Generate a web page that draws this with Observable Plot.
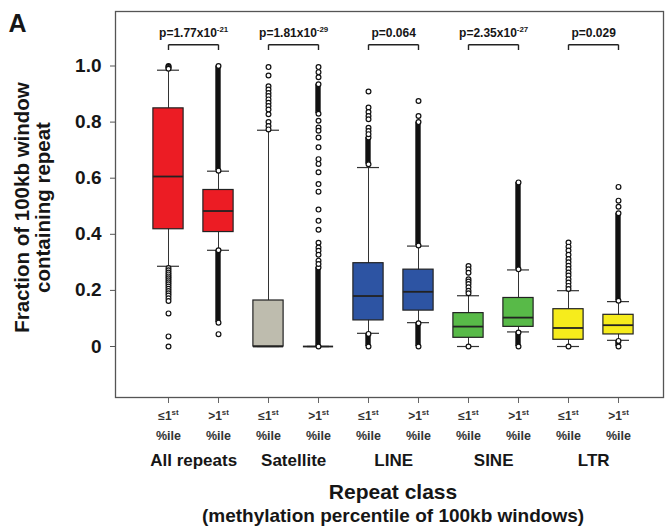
<!DOCTYPE html>
<html>
<head>
<meta charset="utf-8">
<script src="https://cdn.jsdelivr.net/npm/d3@7"></script>
<script src="https://cdn.jsdelivr.net/npm/@observablehq/plot@0.6"></script>
<style>
  html, body { margin: 0; padding: 0; background: #fff; }
  #chart { width: 666px; height: 530px; }
</style>
</head>
<body>
<div id="chart"></div>
<script>
// ---- data ----
const categories = ["All repeats", "Satellite", "LINE", "SINE", "LTR"];
const bins = ["≤1^st", ">1^st"];
const binSub = "%ile";
const pValues = ["p=1.77x10^-21", "p=1.81x10^-29", "p=0.064", "p=2.35x10^-27", "p=0.029"];
const groupFills = ["#EC1C24", "#BEBCAE", "#2D54A3", "#58BA48", "#F6EC1C"];
const yTicks = [0, 0.2, 0.4, 0.6, 0.8, 1.0];

// box statistics, 10 boxes (category x bin)
const q1        = [0.418, 0.408, 0.000, 0.000, 0.093, 0.128, 0.031, 0.070, 0.024, 0.043];
const medians   = [0.606, 0.483, 0.000, 0.000, 0.180, 0.195, 0.071, 0.103, 0.066, 0.076];
const q3        = [0.849, 0.558, 0.164, 0.000, 0.297, 0.274, 0.119, 0.173, 0.133, 0.113];
const whiskerLo = [0.286, 0.343, 0.000, 0.000, 0.047, 0.085, 0.000, 0.052, 0.000, 0.022];
const whiskerHi = [0.985, 0.625, 0.771, 0.000, 0.638, 0.358, 0.181, 0.273, 0.199, 0.160];

// individually visible outliers per box
const outlierValues = [
  [1.0, 0.997, 0.993, 0.99, 0.28, 0.272, 0.264, 0.257, 0.25, 0.243, 0.236, 0.229, 0.222, 0.214, 0.206, 0.198, 0.19, 0.182, 0.172, 0.162, 0.118, 0.036, 0.0],
  [0.044],
  [0.996, 0.966, 0.928, 0.916, 0.904, 0.893, 0.881, 0.869, 0.857, 0.845, 0.828, 0.80, 0.786, 0.774],
  [0.996, 0.978, 0.96, 0.805, 0.781, 0.769, 0.745, 0.71, 0.668, 0.651, 0.621, 0.579, 0.552, 0.488, 0.448, 0.416, 0.37, 0.353, 0.341, 0.327, 0.306, 0.294],
  [0.909, 0.852, 0.836, 0.822, 0.81, 0.78, 0.768, 0.757],
  [0.875, 0.822],
  [0.287, 0.275, 0.263, 0.24, 0.232, 0.223, 0.211, 0.199, 0.19, 0.0],
  [],
  [0.371, 0.356, 0.342, 0.327, 0.312, 0.30, 0.288, 0.276, 0.264, 0.253, 0.24, 0.228, 0.216, 0.205, 0.0],
  [0.569, 0.52, 0.498]
];
// runs of outliers so dense they merge into a solid column: [box index, low, high]
const denseRuns = [
  [1, 0.627, 1.0], [1, 0.085, 0.343],
  [3, 0.0, 0.282], [3, 0.83, 0.935],
  [4, 0.65, 0.745], [4, 0.0, 0.045],
  [5, 0.36, 0.80], [5, 0.0, 0.083],
  [7, 0.275, 0.585], [7, 0.0, 0.05],
  [9, 0.163, 0.475], [9, 0.0, 0.02]
];

// ---- tables built from the arrays ----
const keys = categories.flatMap(c => bins.map(b => c + " " + b));
const rows = keys.map((k, i) => ({
  key: k, bin: bins[i % 2], fill: groupFills[Math.floor(i / 2)],
  q1: q1[i], med: medians[i], q3: q3[i], lo: whiskerLo[i], hi: whiskerHi[i]
}));
const pairs = categories.map((c, i) => ({a: keys[2 * i], b: keys[2 * i + 1], group: c, p: pValues[i]}));
const outliers = outlierValues.flatMap((vals, i) => vals.map(v => ({key: keys[i], v})));
const runs = denseRuns.map(([i, lo, hi]) => ({key: keys[i], lo, hi}));
const runEnds = runs.flatMap(r => [{key: r.key, v: r.lo}, {key: r.key, v: r.hi}]);

const font = "'Liberation Sans', Arial, Helvetica, sans-serif";
const ink = "#161616";
const half = 25.15; // half a band step (offset to the middle of a pair)

const chart = Plot.plot({
  width: 666,
  height: 530,
  marginLeft: 115,
  marginRight: 3,
  marginTop: 11,
  marginBottom: 133,
  style: {fontFamily: font, fontWeight: "bold", background: "#fff", overflow: "visible"},
  x: {type: "band", domain: keys, range: [141, 644], padding: 0},
  y: {domain: [-0.1818, 1.1943]},
  color: {type: "identity"},
  marks: [
    Plot.axisY({ticks: yTicks, tickFormat: d => d === 0 ? "0" : d.toFixed(1), tickSize: 5, tickPadding: 9,
      fontSize: 19, fill: ink, stroke: "#555", label: null}),
    Plot.axisX({tickFormat: () => "", tickSize: 6, stroke: "#666", label: null}),
    Plot.frame({stroke: "#555", strokeWidth: 1.3}),
    // whiskers
    Plot.ruleX(rows, {x: "key", y1: "lo", y2: "hi", stroke: "#333", strokeWidth: 1}),
    Plot.tickY(rows, {x: "key", y: "lo", insetLeft: 14, insetRight: 14, stroke: "#333", strokeWidth: 1.2}),
    Plot.tickY(rows, {x: "key", y: "hi", insetLeft: 14, insetRight: 14, stroke: "#333", strokeWidth: 1.2}),
    // boxes
    Plot.barY(rows, {x: "key", y1: "q1", y2: "q3", fill: "fill", stroke: "#222", strokeWidth: 1.2,
      insetLeft: 9.9, insetRight: 9.9}),
    Plot.tickY(rows, {x: "key", y: "med", insetLeft: 9.9, insetRight: 9.9, stroke: "#222", strokeWidth: 1.8}),
    // outliers
    Plot.barY(runs, {x: "key", y1: "lo", y2: "hi", fill: "#111", insetLeft: 22.3, insetRight: 22.3}),
    Plot.dot(runEnds, {x: "key", y: "v", r: 2.4, stroke: "#111", fill: "#fff", strokeWidth: 1.2}),
    Plot.dot(outliers, {x: "key", y: "v", r: 2.4, stroke: "#111", fill: "#fff", strokeWidth: 1.2}),
    // significance brackets
    Plot.link(pairs, {x1: "a", x2: "a", y1: 1.057, y2: 1.076, stroke: "#222", strokeWidth: 1.4}),
    Plot.link(pairs, {x1: "b", x2: "b", y1: 1.057, y2: 1.076, stroke: "#222", strokeWidth: 1.4}),
    Plot.link(pairs, {x1: "a", x2: "b", y1: 1.076, y2: 1.076, stroke: "#222", strokeWidth: 1.4}),
    Plot.text(pairs, {x: "a", text: "p", frameAnchor: "top", dx: half, dy: 25, lineAnchor: "bottom",
      fontSize: 12, fill: ink}),
    // x tick labels
    Plot.text(rows, {x: "key", text: "bin", frameAnchor: "bottom", dy: 22, lineAnchor: "bottom",
      fontSize: 12, fill: "#333"}),
    Plot.text(rows, {x: "key", text: () => binSub, frameAnchor: "bottom", dy: 42, lineAnchor: "bottom",
      fontSize: 12.5, fill: "#333"}),
    // category labels
    Plot.text(pairs, {x: "a", text: "group", frameAnchor: "bottom", dx: half, dy: 68, lineAnchor: "bottom",
      fontSize: 17, fill: ink}),
    // x title
    Plot.text(["Repeat class"], {text: d => d, frameAnchor: "bottom", dx: 3.5, dy: 101, lineAnchor: "bottom",
      fontSize: 21, fill: ink}),
    Plot.text(["(methylation percentile of 100kb windows)"], {text: d => d, frameAnchor: "bottom", dx: 3.5, dy: 124,
      lineAnchor: "bottom", fontSize: 19, fill: ink}),
    // y title
    Plot.text(["Fraction of 100kb window"], {text: d => d, frameAnchor: "left", textAnchor: "middle", dx: -87, dy: 3,
      rotate: -90, lineAnchor: "bottom", fontSize: 20.5, fill: ink}),
    Plot.text(["containing repeat"], {text: d => d, frameAnchor: "left", textAnchor: "middle", dx: -66, dy: 3,
      rotate: -90, lineAnchor: "bottom", fontSize: 20.5, fill: ink}),
    // panel letter
    Plot.text(["A"], {text: d => d, frameAnchor: "top-left", dx: -107, dy: 20, textAnchor: "start",
      lineAnchor: "bottom", fontSize: 25, fill: ink})
  ]
});

document.getElementById("chart").appendChild(chart);

// superscripts: text after "^" is raised and reduced
chart.querySelectorAll("text").forEach(t => {
  const s = t.textContent;
  if (!s.includes("^")) return;
  const [base, sup] = s.split("^");
  const fs = parseFloat(getComputedStyle(t).fontSize) || 12;
  t.textContent = base;
  const ts = document.createElementNS("http://www.w3.org/2000/svg", "tspan");
  ts.setAttribute("dy", (-0.38 * fs).toFixed(1));
  ts.setAttribute("font-size", (0.66 * fs).toFixed(1));
  ts.textContent = sup;
  t.appendChild(ts);
});
</script>
</body>
</html>
